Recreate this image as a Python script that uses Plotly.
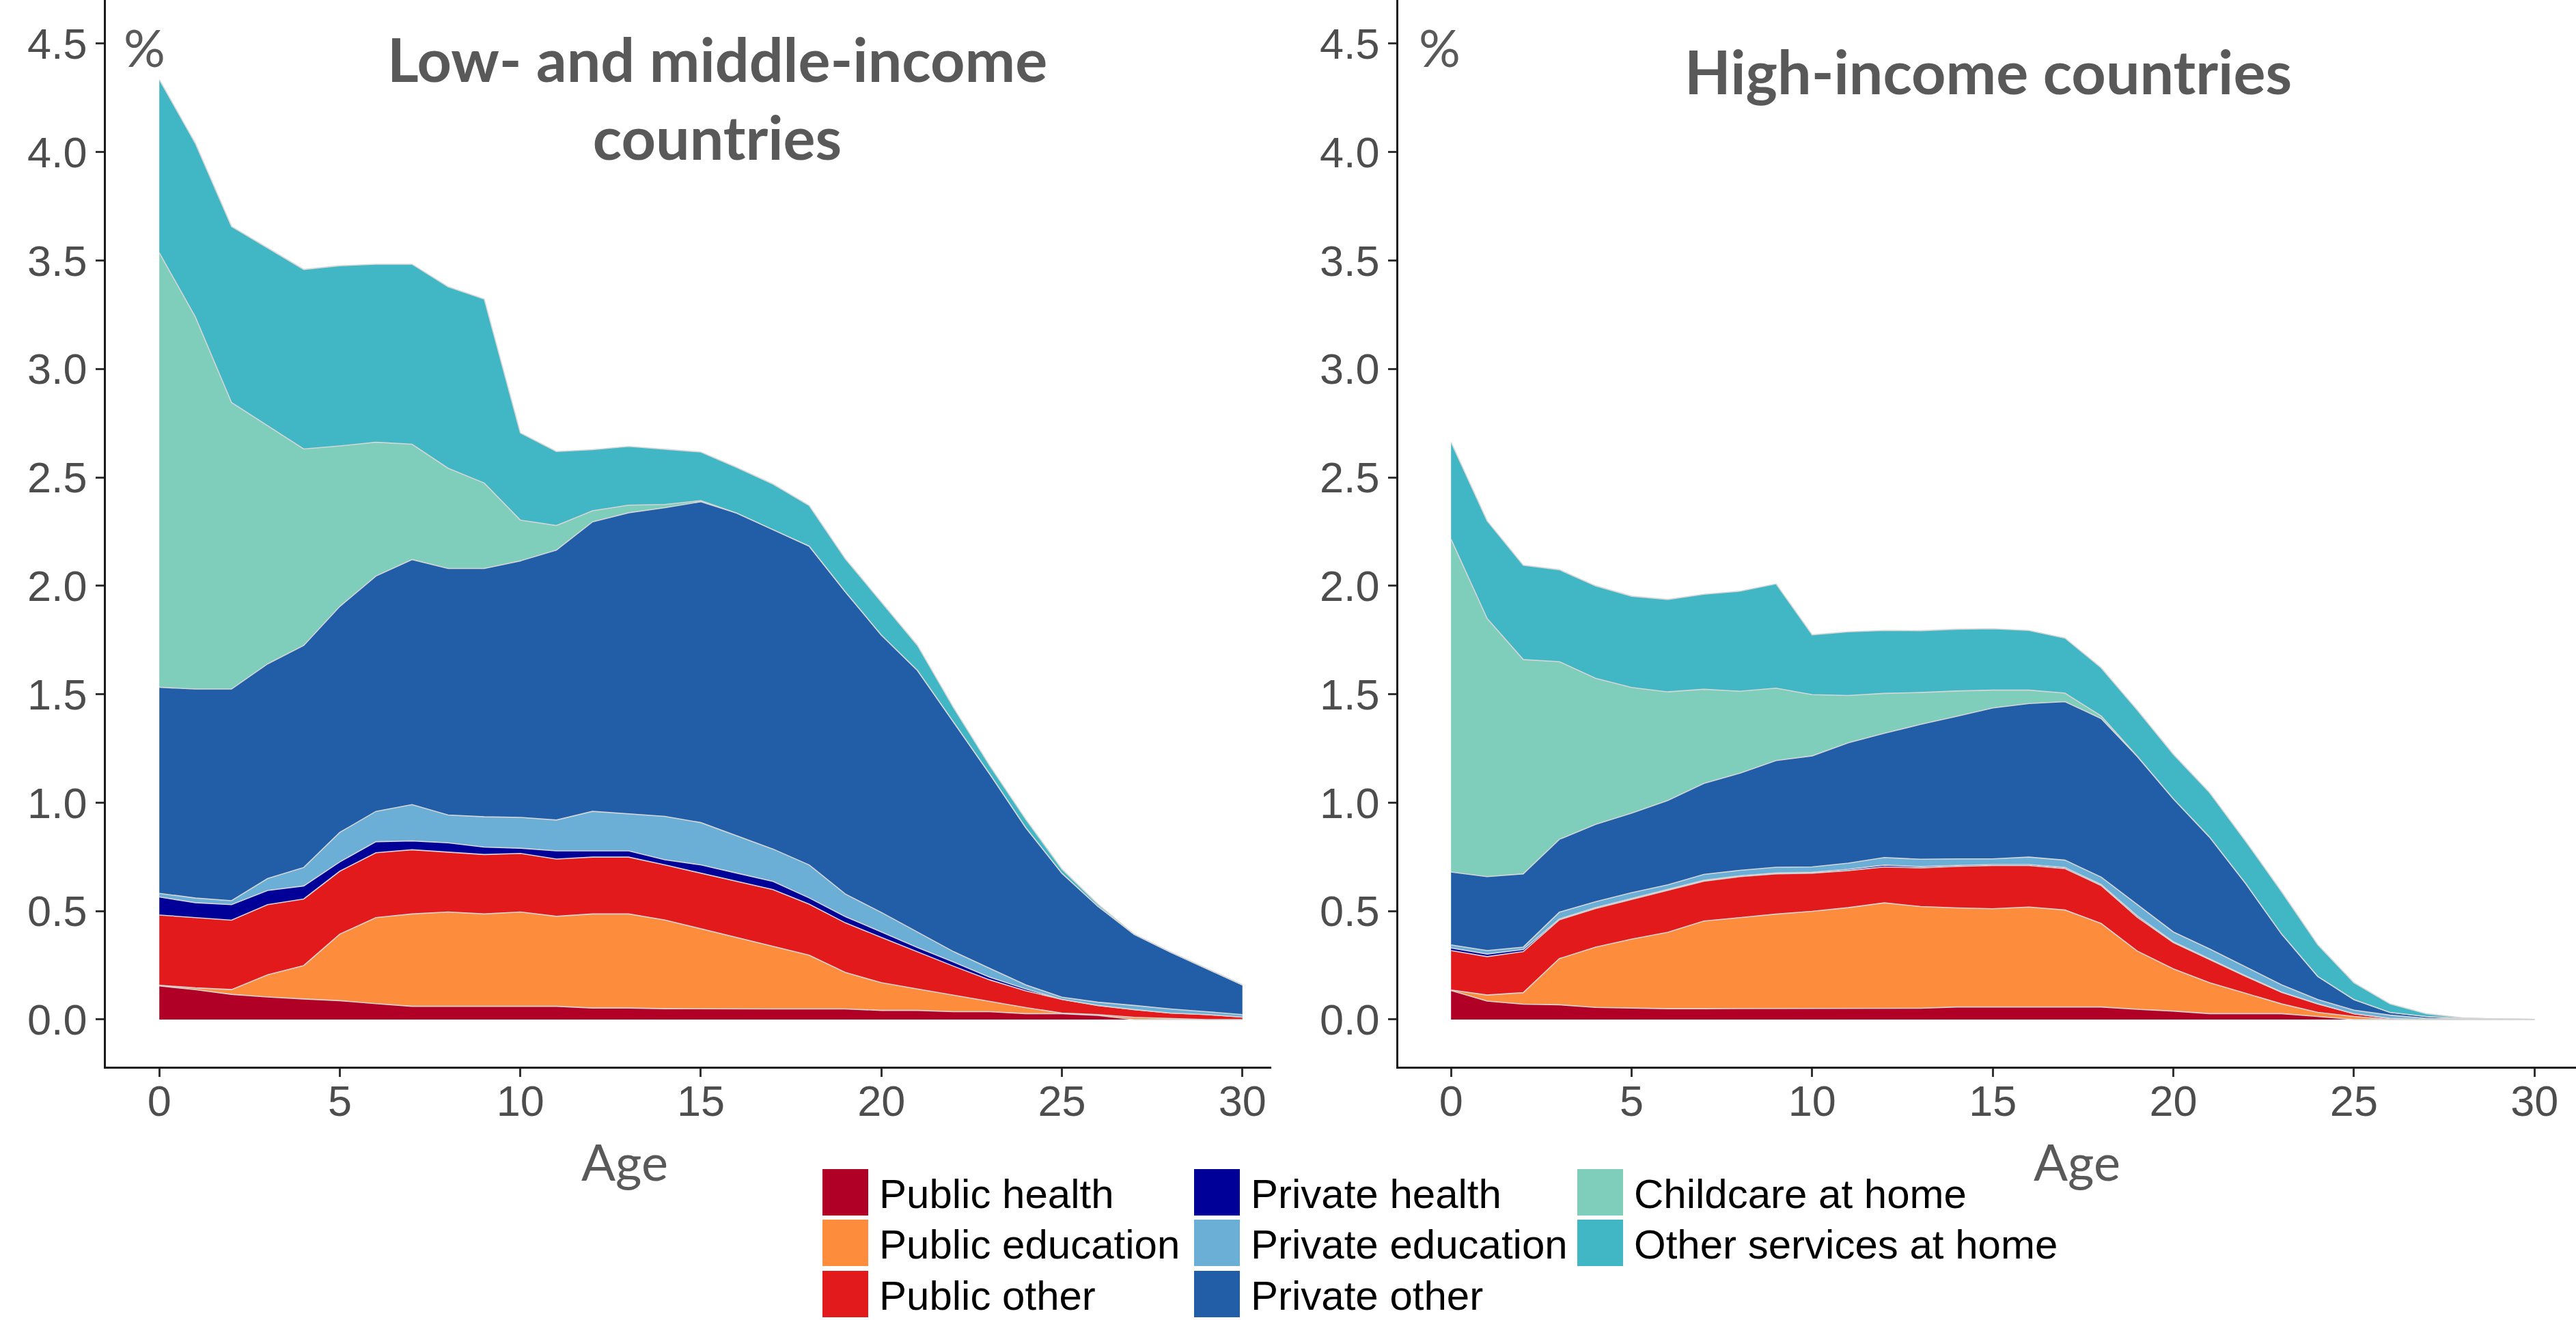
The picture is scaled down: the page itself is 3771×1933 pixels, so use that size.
import plotly.graph_objects as go

W, H = 3771, 1933

ages = list(range(31))

series_names = ["Public health", "Public education", "Public other",
                "Private health", "Private education", "Private other",
                "Childcare at home", "Other services at home"]
series_colors = ["#B00026", "#FD8D3C", "#E31A1C",
                 "#000099", "#6BAED6", "#225EA8",
                 "#7FCDBB", "#41B6C4"]

# Low- and middle-income countries
lmic_public_health = [0.155, 0.138, 0.116, 0.104, 0.095, 0.087, 0.073, 0.061, 0.061, 0.061, 0.061, 0.061, 0.053, 0.053, 0.050, 0.049, 0.049, 0.049, 0.049, 0.049, 0.042, 0.042, 0.036, 0.036, 0.027, 0.027, 0.019, 0, 0, 0, 0]
lmic_public_education = [0.003, 0.008, 0.022, 0.102, 0.154, 0.307, 0.397, 0.426, 0.435, 0.426, 0.435, 0.415, 0.434, 0.434, 0.409, 0.369, 0.330, 0.287, 0.248, 0.168, 0.128, 0.099, 0.076, 0.048, 0.028, 0.003, 0.004, 0.010, 0.005, 0, 0]
lmic_public_other = [0.324, 0.324, 0.320, 0.324, 0.307, 0.290, 0.299, 0.296, 0.277, 0.274, 0.270, 0.264, 0.262, 0.262, 0.254, 0.257, 0.258, 0.263, 0.235, 0.229, 0.209, 0.172, 0.134, 0.099, 0.077, 0.063, 0.042, 0.036, 0.025, 0.023, 0.011]
lmic_private_health = [0.083, 0.069, 0.072, 0.065, 0.060, 0.043, 0.051, 0.041, 0.042, 0.034, 0.024, 0.038, 0.029, 0.029, 0.024, 0.038, 0.038, 0.038, 0.029, 0.029, 0.025, 0.019, 0.019, 0.012, 0.009, 0, 0, 0, 0, 0, 0]
lmic_private_education = [0.017, 0.021, 0.018, 0.055, 0.085, 0.136, 0.140, 0.167, 0.128, 0.140, 0.142, 0.142, 0.182, 0.170, 0.200, 0.195, 0.172, 0.149, 0.152, 0.104, 0.090, 0.072, 0.048, 0.041, 0.019, 0.010, 0.015, 0.019, 0.019, 0.013, 0.012]
lmic_private_other = [0.950, 0.964, 0.976, 0.990, 1.024, 1.042, 1.085, 1.130, 1.137, 1.145, 1.183, 1.245, 1.335, 1.389, 1.423, 1.480, 1.488, 1.473, 1.470, 1.394, 1.279, 1.206, 1.059, 0.897, 0.725, 0.572, 0.442, 0.328, 0.263, 0.200, 0.137]
lmic_childcare = [2.004, 1.715, 1.321, 1.099, 0.906, 0.740, 0.617, 0.532, 0.462, 0.394, 0.188, 0.113, 0.051, 0.035, 0.015, 0.005, 0, 0, 0, 0, 0, 0, 0, 0, 0, 0, 0, 0, 0, 0, 0]
lmic_other_services = [0.798, 0.801, 0.812, 0.819, 0.828, 0.831, 0.821, 0.830, 0.837, 0.848, 0.402, 0.341, 0.282, 0.271, 0.254, 0.224, 0.210, 0.210, 0.187, 0.152, 0.152, 0.115, 0.066, 0.038, 0.038, 0.019, 0.010, 0, 0, 0, 0]

# High-income countries
hic_public_health = [0.134, 0.085, 0.071, 0.068, 0.056, 0.052, 0.050, 0.050, 0.050, 0.050, 0.050, 0.050, 0.050, 0.052, 0.058, 0.058, 0.058, 0.058, 0.058, 0.047, 0.039, 0.027, 0.027, 0.027, 0.014, 0, 0, 0, 0, 0, 0]
hic_public_education = [0.002, 0.028, 0.053, 0.213, 0.278, 0.319, 0.352, 0.404, 0.420, 0.436, 0.449, 0.466, 0.488, 0.469, 0.457, 0.453, 0.461, 0.447, 0.385, 0.269, 0.195, 0.143, 0.094, 0.045, 0.019, 0.014, 0, 0, 0, 0, 0]
hic_public_other = [0.182, 0.177, 0.189, 0.179, 0.178, 0.183, 0.194, 0.184, 0.189, 0.186, 0.176, 0.171, 0.166, 0.178, 0.191, 0.199, 0.191, 0.191, 0.175, 0.156, 0.121, 0.107, 0.078, 0.053, 0.039, 0.013, 0.005, 0, 0, 0, 0]
hic_private_health = [0.012, 0.012, 0.010, 0.004, 0.004, 0.004, 0.004, 0.004, 0.004, 0.004, 0.004, 0.006, 0.008, 0.006, 0.005, 0.005, 0.005, 0.005, 0.005, 0.006, 0.004, 0.003, 0.003, 0.002, 0.001, 0, 0, 0, 0, 0, 0]
hic_private_education = [0.014, 0.016, 0.011, 0.031, 0.027, 0.027, 0.021, 0.027, 0.025, 0.026, 0.025, 0.028, 0.035, 0.034, 0.030, 0.026, 0.034, 0.034, 0.034, 0.052, 0.045, 0.046, 0.040, 0.033, 0.019, 0.016, 0.015, 0.005, 0.003, 0.002, 0.001]
hic_private_other = [0.336, 0.341, 0.338, 0.336, 0.357, 0.367, 0.389, 0.420, 0.448, 0.492, 0.512, 0.555, 0.573, 0.622, 0.657, 0.696, 0.708, 0.731, 0.731, 0.683, 0.614, 0.516, 0.386, 0.234, 0.107, 0.049, 0.013, 0.009, 0.002, 0, 0]
hic_childcare = [1.535, 1.190, 0.988, 0.819, 0.674, 0.579, 0.501, 0.434, 0.378, 0.334, 0.282, 0.218, 0.184, 0.147, 0.117, 0.082, 0.062, 0.039, 0.012, 0.002, 0, 0, 0, 0, 0, 0, 0, 0, 0, 0, 0]
hic_other_services = [0.447, 0.450, 0.435, 0.424, 0.426, 0.421, 0.426, 0.438, 0.461, 0.481, 0.276, 0.294, 0.290, 0.285, 0.285, 0.283, 0.275, 0.254, 0.222, 0.212, 0.205, 0.205, 0.195, 0.195, 0.146, 0.078, 0.039, 0.013, 0.003, 0, 0]

lmic_series = [lmic_public_health, lmic_public_education, lmic_public_other,
               lmic_private_health, lmic_private_education, lmic_private_other,
               lmic_childcare, lmic_other_services]
hic_series = [hic_public_health, hic_public_education, hic_public_other,
              hic_private_health, hic_private_education, hic_private_other,
              hic_childcare, hic_other_services]

y_ticks = [0.0, 0.5, 1.0, 1.5, 2.0, 2.5, 3.0, 3.5, 4.0, 4.5]
x_ticks = [0, 5, 10, 15, 20, 25, 30]

panel_titles = ["Low- and middle-income countries", "High-income countries"]


def px(x):
    return x / W


def py(y):
    return 1 - y / H


fig = go.Figure()

OUTLINE = "#D6D6D6"
for vals, name, col in zip(lmic_series, series_names, series_colors):
    fig.add_trace(go.Scatter(x=ages, y=vals, name=name, mode="lines",
                             stackgroup="lmic", fillcolor=col,
                             line=dict(color=OUTLINE, width=1.6),
                             xaxis="x", yaxis="y", showlegend=False))
for vals, name, col in zip(hic_series, series_names, series_colors):
    fig.add_trace(go.Scatter(x=ages, y=vals, name=name, mode="lines",
                             stackgroup="hic", fillcolor=col,
                             line=dict(color=OUTLINE, width=1.6),
                             xaxis="x2", yaxis="y2", showlegend=False))

tick_font = dict(family="Liberation Sans, Arial, sans-serif", size=63, color="#4D4D4D")
common_x = dict(showgrid=False, zeroline=False, showline=True, linecolor="#1a1a1a",
                linewidth=2.5, ticks="outside", ticklen=12, tickwidth=2.5,
                tickcolor="#333333", tickfont=tick_font, tickvals=x_ticks,
                ticktext=[str(v) for v in x_ticks], ticklabelstandoff=-18)
common_y = dict(showgrid=False, zeroline=False, showline=True, linecolor="#1a1a1a",
                linewidth=2.5, ticks="outside", ticklen=12, tickwidth=2.5,
                tickcolor="#333333", tickfont=tick_font, tickvals=y_ticks,
                ticktext=["%.1f" % v for v in y_ticks],
                range=[-0.2173, 4.7015], domain=[py(1562), 1.0])

fig.update_layout(
    width=W, height=H,
    margin=dict(l=0, r=0, t=0, b=0),
    paper_bgcolor="white", plot_bgcolor="white",
    showlegend=False,
    xaxis=dict(common_x, domain=[px(155), px(1861)], range=[-1.48, 30.8], anchor="y"),
    yaxis=dict(common_y, anchor="x"),
    xaxis2=dict(common_x, domain=[px(2047), 1.0], range=[-1.46, 31.15], anchor="y2"),
    yaxis2=dict(common_y, anchor="x2"),
)

title_font = dict(family="Lato, Carlito, sans-serif", size=88, color="#595959")
label_font = dict(family="Lato, Carlito, sans-serif", size=76, color="#595959")

annotations = [
    dict(text="<b>Low- and middle-income<br>countries</b>", x=px(1050), y=py(143),
         xref="paper", yref="paper", showarrow=False, xanchor="center", yanchor="middle",
         font=title_font, align="center"),
    dict(text="<b>" + panel_titles[1] + "</b>", x=px(2910), y=py(104),
         xref="paper", yref="paper", showarrow=False, xanchor="center", yanchor="middle",
         font=title_font),
    dict(text="%", x=px(211), y=py(68), xref="paper", yref="paper", showarrow=False,
         xanchor="center", yanchor="middle", font=label_font),
    dict(text="%", x=px(2107), y=py(68), xref="paper", yref="paper", showarrow=False,
         xanchor="center", yanchor="middle", font=label_font),
    dict(text="Age", x=px(914), y=py(1700), xref="paper", yref="paper", showarrow=False,
         xanchor="center", yanchor="middle", font=dict(label_font, size=74)),
    dict(text="Age", x=px(3040), y=py(1700), xref="paper", yref="paper", showarrow=False,
         xanchor="center", yanchor="middle", font=dict(label_font, size=74)),
]

# Manual legend (3 columns, filled column-wise)
shapes = []
col_x = [1204, 1748, 2309]
row_top = [1712, 1786, 1861]
sw_w, sw_h = 67, 68
legend_font = dict(family="Liberation Sans, Arial, sans-serif", size=60, color="#000000")
for i, (name, col) in enumerate(zip(series_names, series_colors)):
    c, r = i // 3, i % 3
    x0, y0 = col_x[c], row_top[r]
    shapes.append(dict(type="rect", xref="paper", yref="paper",
                       x0=px(x0), x1=px(x0 + sw_w), y0=py(y0 + sw_h), y1=py(y0),
                       fillcolor=col, line=dict(width=0)))
    annotations.append(dict(text=name, x=px(x0 + sw_w + 14), y=py(y0 + sw_h / 2 + 2),
                            xref="paper", yref="paper", showarrow=False,
                            xanchor="left", yanchor="middle", font=legend_font))

fig.update_layout(annotations=annotations, shapes=shapes)

fig.write_html("out.html")
